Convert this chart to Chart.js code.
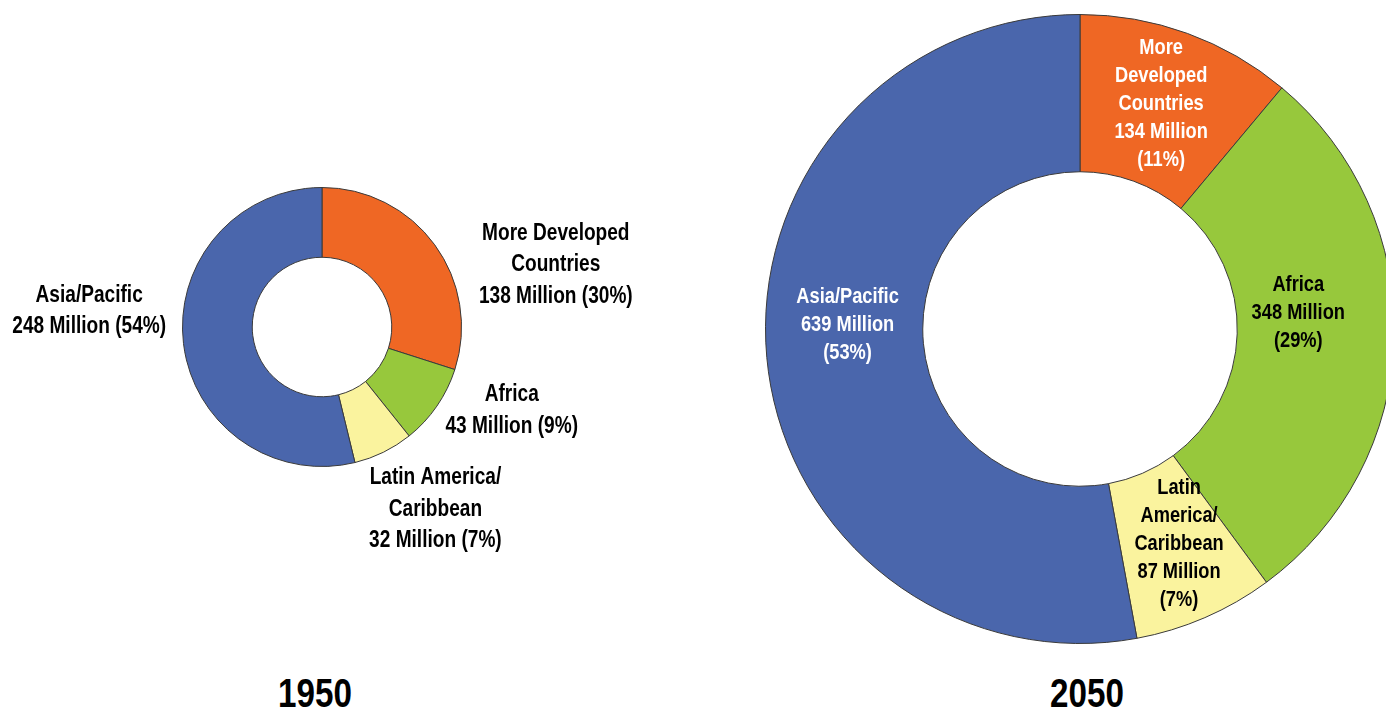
<!DOCTYPE html>
<html>
<head>
<meta charset="utf-8">
<script src="https://cdn.jsdelivr.net/npm/chart.js@4"></script>
<style>
  html, body { margin: 0; padding: 0; width: 1386px; height: 707px; overflow: hidden; background: #fff; }
  .ring { position: absolute; }
  .year {
    position: absolute; transform: translateX(-50%) scaleX(0.83);
    font: bold 40px "Liberation Sans", Arial, sans-serif;
    color: #000; line-height: 1;
  }
</style>
</head>
<body>
<div class="ring" style="left:0px; top:0px; width:644px; height:654px;"><canvas id="c1950"></canvas></div>
<div class="ring" style="left:765px; top:14px; width:630px; height:630px;"><canvas id="c2050"></canvas></div>
<div class="year" id="y1950" style="left:315px; top:673px;"></div>
<div class="year" id="y2050" style="left:1087px; top:673px;"></div>

<script>
// Population by region (millions) and share of total (%)
const regions = ['More Developed Countries', 'Africa', 'Latin America/Caribbean', 'Asia/Pacific'];
const years = ['1950', '2050'];
const pop1950 = [138, 43, 32, 248];
const pop2050 = [134, 348, 87, 639];
const share1950 = [30, 9, 7, 54];
const share2050 = [11, 29, 7, 53];

const sliceColors = ['#EF6724', '#97C83C', '#FAF39E', '#4A66AC'];
const FONT_FAMILY = '"Liberation Sans", Arial, sans-serif';
const NARROW = 0.83; // horizontal squeeze for a condensed look

// Label text per slice, split into lines
function labels1950(i) {
  const v = pop1950[i], p = share1950[i];
  return [
    ['More Developed', 'Countries', v + ' Million (' + p + '%)'],
    ['Africa', v + ' Million (' + p + '%)'],
    ['Latin America/', 'Caribbean', v + ' Million (' + p + '%)'],
    ['Asia/Pacific', v + ' Million (' + p + '%)']
  ][i];
}
function labels2050(i) {
  const v = pop2050[i], p = share2050[i];
  return [
    ['More', 'Developed', 'Countries', v + ' Million', '(' + p + '%)'],
    ['Africa', v + ' Million', '(' + p + '%)'],
    ['Latin', 'America/', 'Caribbean', v + ' Million', '(' + p + '%)'],
    ['Asia/Pacific', v + ' Million', '(' + p + '%)']
  ][i];
}

// Draws each slice's label block, placed relative to the ring centre in units of the outer radius
const sliceLabels = {
  id: 'sliceLabels',
  afterDatasetsDraw(chart, args, opts) {
    const ctx = chart.ctx;
    const arcs = chart.getDatasetMeta(0).data;
    ctx.save();
    ctx.font = 'bold ' + opts.size + 'px ' + FONT_FAMILY;
    ctx.textAlign = 'center';
    ctx.textBaseline = 'middle';
    arcs.forEach((arc, i) => {
      const lines = opts.text(i);
      const [fx, fy] = opts.place[i];
      const cx = arc.x + fx * arc.outerRadius;
      const cy = arc.y + fy * arc.outerRadius;
      const top = cy - (lines.length - 1) * opts.lineHeight / 2;
      ctx.fillStyle = opts.colors[i];
      lines.forEach((ln, k) => {
        ctx.save();
        ctx.translate(cx, top + k * opts.lineHeight);
        ctx.scale(NARROW, 1);
        ctx.fillText(ln, 0, 0);
        ctx.restore();
      });
    });
    ctx.restore();
  }
};

function ring(id, values, padding, labelOpts) {
  return new Chart(document.getElementById(id), {
    type: 'doughnut',
    data: {
      labels: regions,
      datasets: [{
        data: values,
        backgroundColor: sliceColors,
        borderColor: '#3a3a3a',
        borderWidth: 1
      }]
    },
    options: {
      responsive: true,
      maintainAspectRatio: false,
      animation: false,
      cutout: '50%',
      layout: { padding: padding },
      plugins: {
        legend: { display: false },
        tooltip: { enabled: false },
        sliceLabels: labelOpts
      }
    },
    plugins: [sliceLabels]
  });
}

ring('c1950', pop1950, { left: 182, right: 182, top: 187, bottom: 187 }, {
  text: labels1950,
  size: 23,
  lineHeight: 31.5,
  colors: ['#000', '#000', '#000', '#000'],
  place: [[1.676, -0.446], [1.36, 0.60], [0.813, 1.309], [-1.669, -0.112]]
});

ring('c2050', pop2050, 0, {
  text: labels2050,
  size: 22,
  lineHeight: 28,
  colors: ['#fff', '#000', '#000', '#fff'],
  place: [[0.258, -0.717], [0.694, -0.051], [0.315, 0.685], [-0.739, -0.013]]
});

document.getElementById('y1950').textContent = years[0];
document.getElementById('y2050').textContent = years[1];
</script>
</body>
</html>
